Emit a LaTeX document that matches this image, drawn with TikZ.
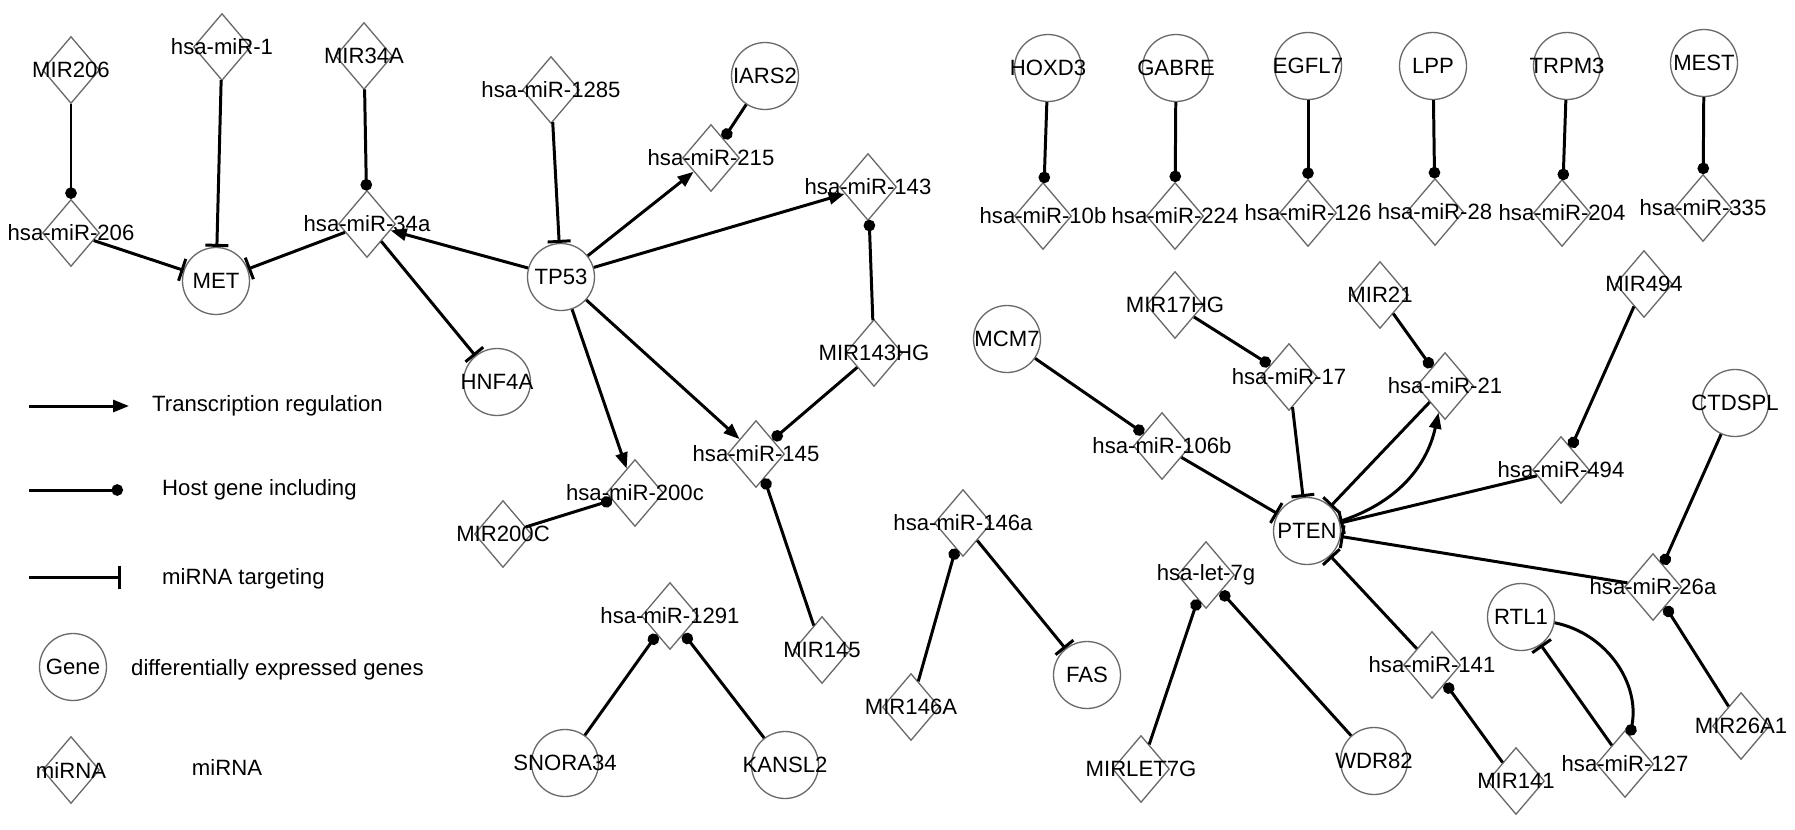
\documentclass[tikz,border=0pt]{standalone}
\usepackage{fontspec}
\setmainfont{Liberation Sans}
\usetikzlibrary{arrows.meta,shapes.geometric}
\definecolor{outline}{RGB}{105,105,105}
\tikzset{
    net diagram/.style = {x=0.02cm, y=-0.02cm, font=\fontsize{12.6}{15}\selectfont},
    gene/.style   = {circle, draw=outline, line width=0.75pt,
                     minimum size=1.34cm, inner sep=0pt, label={center:#1}},
    mirna/.style  = {diamond, draw=outline, line width=0.75pt,
                     minimum width=1.14cm, minimum height=1.34cm,
                     inner sep=0pt, label={center:#1}},
    link/.style   = {line width=1.7pt},
    trans/.style  = {link, -{Triangle[length=0.32cm, width=0.24cm]}},
    host/.style   = {link, -{Circle[length=0.23cm]}},
    target/.style = {link, -{Bar[width=0.46cm]}},
    keytext/.style = {anchor=west}
}

\begin{document}
\begin{tikzpicture}[net diagram]
\useasboundingbox (0,0) rectangle (1795,829);

% Genes
\node[gene=MET]     (MET)     at (216,281) {};
\node[gene=TP53]    (TP53)    at (561,277) {};
\node[gene=HNF4A]   (HNF4A)   at (497,382) {};
\node[gene=IARS2]   (IARS2)   at (765,76)  {};
\node[gene=HOXD3]   (HOXD3)   at (1048,68) {};
\node[gene=GABRE]   (GABRE)   at (1176,68) {};
\node[gene=EGFL7]   (EGFL7)   at (1308,66) {};
\node[gene=LPP]     (LPP)     at (1433,66) {};
\node[gene=TRPM3]   (TRPM3)   at (1567,66) {};
\node[gene=MEST]    (MEST)    at (1704,63) {};
\node[gene=MCM7]    (MCM7)    at (1007,339) {};
\node[gene=CTDSPL]  (CTDSPL)  at (1735,403) {};
\node[gene=PTEN]    (PTEN)    at (1307,531) {};
\node[gene=RTL1]    (RTL1)    at (1521,617) {};
\node[gene=FAS]     (FAS)     at (1087,675) {};
\node[gene=WDR82]   (WDR82)   at (1374,761) {};
\node[gene=SNORA34] (SNORA34) at (565,763) {};
\node[gene=KANSL2]  (KANSL2)  at (785,765) {};

% miRNAs and host genes
\node[mirna=MIR206]       (MIR206)   at (71,70)    {};
\node[mirna=hsa-miR-1]    (m1)       at (222,47)   {};
\node[mirna=MIR34A]       (MIR34A)   at (364,56)   {};
\node[mirna=hsa-miR-1285] (m1285)    at (551,90)   {};
\node[mirna=hsa-miR-206]  (m206)     at (71,233)   {};
\node[mirna=hsa-miR-34a]  (m34a)     at (367,224)  {};
\node[mirna=hsa-miR-215]  (m215)     at (711,158)  {};
\node[mirna=hsa-miR-143]  (m143)     at (868,187)  {};
\node[mirna=MIR143HG]     (MIR143HG) at (874,353)  {};
\node[mirna=hsa-miR-145]  (m145)     at (756,454)  {};
\node[mirna=hsa-miR-200c] (m200c)    at (635,493)  {};
\node[mirna=MIR200C]      (MIR200C)  at (503,534)  {};
\node[mirna=hsa-miR-1291] (m1291)    at (670,616)  {};
\node[mirna=MIR145]       (MIR145)   at (822,650)  {};
\node[mirna=hsa-miR-146a] (m146a)    at (963,523)  {};
\node[mirna=MIR146A]      (MIR146A)  at (911,707)  {};
\node[mirna=hsa-miR-10b]  (m10b)     at (1043,216) {};
\node[mirna=hsa-miR-224]  (m224)     at (1175,216) {};
\node[mirna=hsa-miR-126]  (m126)     at (1308,213) {};
\node[mirna=hsa-miR-28]   (m28)      at (1435,212) {};
\node[mirna=hsa-miR-204]  (m204)     at (1562,213) {};
\node[mirna=hsa-miR-335]  (m335)     at (1703,208) {};
\node[mirna=MIR17HG]      (MIR17HG)  at (1175,305) {};
\node[mirna=MIR21]        (MIR21)    at (1380,295) {};
\node[mirna=MIR494]       (MIR494)   at (1644,284) {};
\node[mirna=hsa-miR-17]   (m17)      at (1289,377) {};
\node[mirna=hsa-miR-21]   (m21)      at (1445,386) {};
\node[mirna=hsa-miR-106b] (m106b)    at (1162,446) {};
\node[mirna=hsa-miR-494]  (m494)     at (1561,470) {};
\node[mirna=hsa-let-7g]   (let7g)    at (1206,575) {};
\node[mirna=hsa-miR-26a]  (m26a)     at (1653,587) {};
\node[mirna=hsa-miR-141]  (m141)     at (1432,665) {};
\node[mirna=MIRLET7G]     (MIRLET7G) at (1141,769) {};
\node[mirna=MIR141]       (MIR141)   at (1516,781) {};
\node[mirna=hsa-miR-127]  (m127)     at (1625,764) {};
\node[mirna=MIR26A1]      (MIR26A1)  at (1741,726) {};

% Host gene including
\foreach \a/\b in {MIR206/m206, MIR34A/m34a, IARS2/m215, MIR143HG/m143,
                   MIR143HG/m145, MIR145/m145, MIR200C/m200c,
                   SNORA34/m1291, KANSL2/m1291, MIR146A/m146a,
                   HOXD3/m10b, GABRE/m224, EGFL7/m126, LPP/m28,
                   TRPM3/m204, MEST/m335, MCM7/m106b, MIR17HG/m17,
                   MIR21/m21, MIR494/m494, CTDSPL/m26a, MIR26A1/m26a,
                   MIR141/m141, MIRLET7G/let7g, WDR82/let7g}
    \draw[host] (\a) -- (\b);
\draw[host] (RTL1) to[bend left=45] (m127);

% Transcription regulation
\foreach \b in {m34a, m215, m143, m145, m200c}
    \draw[trans] (TP53) -- (\b);
\draw[trans] (PTEN) to[bend right=30] (m21);

% miRNA targeting
\foreach \a/\b in {m206/MET, m1/MET, m34a/MET, m34a/HNF4A, m1285/TP53,
                   m146a/FAS, m106b/PTEN, m17/PTEN, m21/PTEN, m494/PTEN,
                   m26a/PTEN, m141/PTEN, m127/RTL1}
    \draw[target] (\a) -- (\b);

% Legend
\coordinate (tr0) at (29,406);
\coordinate (tr1) at (129,406);
\draw[trans] (tr0) -- (tr1);
\node[keytext] (trtext) at (146,406) {Transcription regulation};
\coordinate (ho0) at (29,490);
\coordinate (ho1) at (123,490);
\draw[host] (ho0) -- (ho1);
\node[keytext] (hotext) at (156,490) {Host gene including};
\coordinate (ta0) at (29,577);
\coordinate (ta1) at (121,577);
\draw[target] (ta0) -- (ta1);
\node[keytext] (tatext) at (156,579) {miRNA targeting};
\node[gene=Gene] (keygene) at (73,667) {};
\node[keytext] (genetext) at (125,670) {differentially expressed genes};
\node[mirna=miRNA] (keymirna) at (71,770) {};
\node (mirnatext) at (227,767) {miRNA};

\end{tikzpicture}
\end{document}
